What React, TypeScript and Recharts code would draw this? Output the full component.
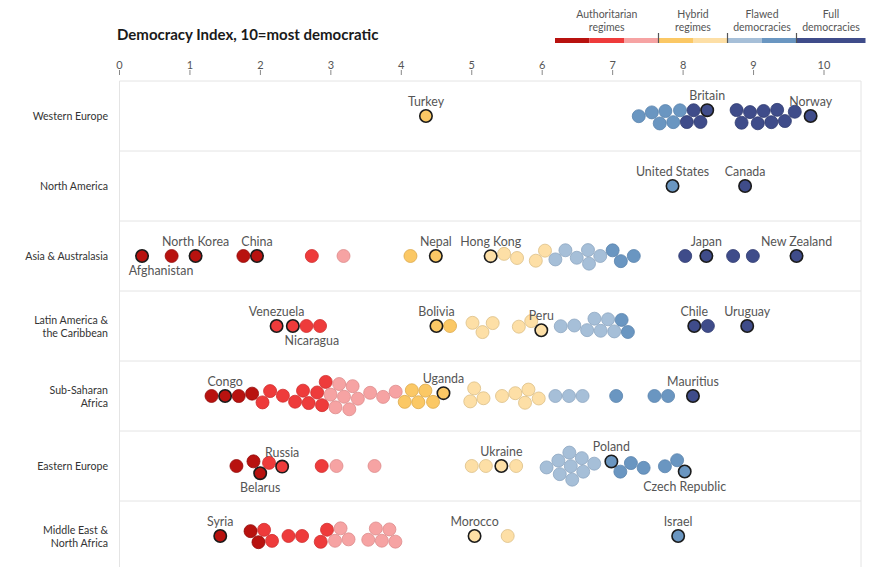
import React from "react";
import { ScatterChart, Scatter, XAxis, YAxis, ReferenceLine } from "recharts";

// Democracy Index scores by region
const regionLines = [
  ["Western Europe"],
  ["North America"],
  ["Asia & Australasia"],
  ["Latin America &", "the Caribbean"],
  ["Sub-Saharan", "Africa"],
  ["Eastern Europe"],
  ["Middle East &", "North Africa"],
];

const westernEurope = [4.35, 7.38, 7.64, 7.69, 7.7, 7.95, 7.97, 8.07, 8.07, 8.2, 8.28, 8.8, 8.81, 9.0, 9.13, 9.14, 9.28, 9.29, 9.39, 9.52, 9.81];
const northAmerica = [7.85, 8.88];
const asiaAustralasia = [0.32, 0.74, 1.08, 1.77, 1.94, 2.73, 3.18, 4.13, 4.49, 5.28, 5.54, 5.55, 5.97, 5.99, 6.22, 6.35, 6.47, 6.67, 6.71, 6.73, 7.04, 7.06, 7.3, 8.03, 8.33, 8.71, 8.99, 9.61];
const latinAmerica = [2.23, 2.5, 2.65, 2.81, 4.51, 4.68, 5.06, 5.15, 5.25, 5.69, 5.89, 5.92, 6.34, 6.39, 6.72, 6.78, 6.85, 6.91, 6.95, 7.13, 7.16, 8.22, 8.29, 8.91];
const subSaharan = [1.35, 1.48, 1.67, 1.92, 2.03, 2.13, 2.32, 2.56, 2.56, 2.74, 2.79, 2.92, 2.99, 3.01, 3.08, 3.1, 3.17, 3.2, 3.23, 3.4, 3.51, 3.73, 3.96, 4.03, 4.22, 4.23, 4.28, 4.47, 4.55, 5.03, 5.05, 5.1, 5.43, 5.7, 5.72, 5.8, 5.91, 6.19, 6.43, 6.52, 7.05, 7.65, 7.73, 8.14];
const easternEurope = [1.66, 1.94, 1.99, 2.12, 2.28, 2.87, 3.08, 3.62, 5.0, 5.2, 5.42, 5.63, 6.1, 6.23, 6.33, 6.41, 6.45, 6.45, 6.5, 6.53, 6.64, 7.04, 7.07, 7.31, 7.37, 7.75, 7.96, 7.97];
const middleEast = [1.43, 1.95, 1.96, 2.06, 2.08, 2.47, 2.52, 2.9, 2.93, 3.12, 3.13, 3.17, 3.64, 3.65, 3.66, 3.83, 3.86, 5.04, 5.51, 7.93];

const scoresByRegion = [westernEurope, northAmerica, asiaAustralasia, latinAmerica, subSaharan, easternEurope, middleEast];

const namedCountries = [
  { region: 0, score: 4.35, name: "Turkey" },
  { region: 0, score: 8.28, name: "Britain" },
  { region: 0, score: 9.81, name: "Norway" },
  { region: 1, score: 7.85, name: "United States" },
  { region: 1, score: 8.88, name: "Canada" },
  { region: 2, score: 0.32, name: "Afghanistan" },
  { region: 2, score: 1.08, name: "North Korea" },
  { region: 2, score: 1.94, name: "China" },
  { region: 2, score: 4.49, name: "Nepal" },
  { region: 2, score: 5.28, name: "Hong Kong" },
  { region: 2, score: 8.33, name: "Japan" },
  { region: 2, score: 9.61, name: "New Zealand" },
  { region: 3, score: 2.23, name: "Venezuela" },
  { region: 3, score: 2.5, name: "Nicaragua" },
  { region: 3, score: 4.51, name: "Bolivia" },
  { region: 3, score: 5.92, name: "Peru" },
  { region: 3, score: 8.22, name: "Chile" },
  { region: 3, score: 8.91, name: "Uruguay" },
  { region: 4, score: 1.48, name: "Congo" },
  { region: 4, score: 4.55, name: "Uganda" },
  { region: 4, score: 8.14, name: "Mauritius" },
  { region: 5, score: 1.99, name: "Belarus" },
  { region: 5, score: 2.28, name: "Russia" },
  { region: 5, score: 5.42, name: "Ukraine" },
  { region: 5, score: 7.04, name: "Poland" },
  { region: 5, score: 7.97, name: "Czech Republic" },
  { region: 6, score: 1.43, name: "Syria" },
  { region: 6, score: 5.04, name: "Morocco" },
  { region: 6, score: 7.93, name: "Israel" },
];

const xTicks = [0, 1, 2, 3, 4, 5, 6, 7, 8, 9, 10];

const bandLimits = [2, 3, 4, 5, 6, 7, 8];
const bandFill = ["#b8120f", "#ee3b3b", "#f6a3a3", "#fbc865", "#fddfa6", "#a6bfd8", "#6a96c1", "#3f4c8a"];
const bandStroke = ["#930d0b", "#cf2d2d", "#dd8b8b", "#dcaa4c", "#dcbf86", "#8ea7c1", "#5a84ad", "#2f3a70"];

const legendGroups = [
  { lines: ["Authoritarian", "regimes"], bands: 3 },
  { lines: ["Hybrid", "regimes"], bands: 2 },
  { lines: ["Flawed", "democracies"], bands: 2 },
  { lines: ["Full", "democracies"], bands: 1 },
];

const below = ["Afghanistan", "Nicaragua", "Belarus", "Czech Republic"];
const nudge: Record<string, number> = { Afghanistan: 19, Nicaragua: 19 };

const FONT = "Lato, 'Open Sans', sans-serif";
const W = 874;
const H = 567;
const PLOT_LEFT = 119.5;
const PLOT_RIGHT = 861;
const PLOT_TOP = 75;
const PX_PER_UNIT = 70.45;
const ROW_PX = 70;
const R = 6.5;
const X_MAX = (PLOT_RIGHT - PLOT_LEFT) / PX_PER_UNIT;
const Y_MIN = -(81 - PLOT_TOP) / ROW_PX;
const Y_MAX = Y_MIN + (H - PLOT_TOP) / ROW_PX;

const bandOf = (s: number) => {
  let i = 0;
  while (i < bandLimits.length && s >= bandLimits[i]) i++;
  return i;
};

// small force layout (x pull, y pull, collision) to build the swarm
function swarm(scores: number[]) {
  const nodes = scores.map((s, i) => ({
    score: s,
    tx: s * PX_PER_UNIT,
    x: s * PX_PER_UNIT,
    y: (((i * 7) % 5) - 2) * 0.4,
    vx: 0,
    vy: 0,
  }));
  const d = 2 * (R + 0.3);
  for (let k = 0; k < 300; k++) {
    const alpha = Math.pow(0.001, k / 300);
    for (const n of nodes) {
      n.vx += (n.tx - n.x) * 0.3 * alpha;
      n.vy += -n.y * 0.3 * alpha;
    }
    for (let i = 0; i < nodes.length; i++) {
      for (let j = i + 1; j < nodes.length; j++) {
        const a = nodes[i];
        const b = nodes[j];
        const dx = a.x + a.vx - b.x - b.vx;
        let dy = a.y + a.vy - b.y - b.vy;
        let l = dx * dx + dy * dy;
        if (l < d * d) {
          if (l < 1e-6) {
            dy = 0.01;
            l = 1e-4;
          }
          l = Math.sqrt(l);
          const f = ((d - l) / l) * 0.5;
          a.vx += dx * f;
          a.vy += dy * f;
          b.vx -= dx * f;
          b.vy -= dy * f;
        }
      }
    }
    for (const n of nodes) {
      n.vx *= 0.6;
      n.vy *= 0.6;
      n.x += n.vx;
      n.y += n.vy;
    }
  }
  return nodes;
}

type Pt = { x: number; y: number; score: number; name?: string };

const points: Pt[] = [];
scoresByRegion.forEach((scores, r) => {
  const used = new Set<number>();
  swarm(scores).forEach((n) => {
    let name: string | undefined;
    const hit = namedCountries.find((c) => c.region === r && c.score === n.score);
    if (hit && !used.has(hit.score)) {
      name = hit.name;
      used.add(hit.score);
    }
    points.push({ x: n.x / PX_PER_UNIT, y: r + 0.5 + n.y / ROW_PX, score: n.score, name });
  });
});

const plainPoints = points.filter((p) => !p.name);
const namedPoints = points.filter((p) => p.name);

const Dot = (props: any) => {
  const { cx, cy, payload } = props;
  const b = bandOf(payload.score);
  const named = !!payload.name;
  return (
    <circle
      cx={cx}
      cy={cy}
      r={named ? R - 0.3 : R}
      fill={bandFill[b]}
      stroke={named ? "#1b1b1b" : bandStroke[b]}
      strokeWidth={named ? 1.6 : 0.8}
    />
  );
};

const CountryLabel = (props: any) => {
  const { cx, cy, payload } = props;
  const isBelow = below.includes(payload.name);
  return (
    <text
      x={cx + (nudge[payload.name] || 0)}
      y={isBelow ? cy + 19 : cy - 10}
      textAnchor="middle"
      fontSize={12.4}
      fill="#555"
      fontFamily={FONT}
    >
      {payload.name}
    </text>
  );
};

const RowTick = (props: any) => {
  const { y, payload } = props;
  const lines = regionLines[Math.floor(payload.value)];
  const first = lines.length === 1 ? 4 : -2.5;
  return (
    <text x={108} y={y} textAnchor="end" fontSize={10.6} fill="#333" fontFamily={FONT}>
      {lines.map((l, i) => (
        <tspan key={i} x={108} dy={i === 0 ? first : 13}>
          {l}
        </tspan>
      ))}
    </text>
  );
};

const Legend = () => {
  let x = 555;
  const seg = 34.5;
  let band = 0;
  const parts: React.ReactNode[] = [];
  legendGroups.forEach((g, gi) => {
    const start = x;
    const width = g.bands === 1 ? seg * 2 : seg * g.bands;
    const each = width / g.bands;
    for (let k = 0; k < g.bands; k++) {
      parts.push(<rect key={`r${band}`} x={x + k * each} y={38} width={each} height={5} fill={bandFill[band]} />);
      band++;
    }
    x += width;
    const mid = start + width / 2;
    parts.push(
      <text key={`t${gi}`} x={mid} y={18} textAnchor="middle" fontSize={10.5} fill="#555" fontFamily={FONT}>
        <tspan x={mid} dy={0}>{g.lines[0]}</tspan>
        <tspan x={mid} dy={12.5}>{g.lines[1]}</tspan>
      </text>
    );
    if (gi > 0) parts.push(<line key={`l${gi}`} x1={start} x2={start} y1={33} y2={43} stroke="#555" strokeWidth={1.2} />);
  });
  return <>{parts}</>;
};

const App = () => {
  return (
    <div style={{ position: "absolute", left: 0, top: 0, width: W, height: H, background: "#fff", fontFamily: FONT }}>
      <ScatterChart width={W} height={H} margin={{ top: PLOT_TOP - 30, right: W - PLOT_RIGHT, bottom: 0, left: 0 }}>
        <XAxis
          type="number"
          dataKey="x"
          orientation="top"
          domain={[0, X_MAX]}
          allowDataOverflow
          ticks={xTicks}
          height={30}
          tickSize={5}
          tickMargin={1}
          axisLine={false}
          tickLine={{ stroke: "#888" }}
          tick={{ fontSize: 11, fill: "#555", fontFamily: FONT }}
        />
        <YAxis
          type="number"
          dataKey="y"
          domain={[Y_MIN, Y_MAX]}
          allowDataOverflow
          reversed
          width={PLOT_LEFT}
          ticks={[0.5, 1.5, 2.5, 3.5, 4.5, 5.5, 6.5]}
          tick={<RowTick />}
          axisLine={false}
          tickLine={false}
        />
        {[0, 1, 2, 3, 4, 5, 6].map((i) => (
          <ReferenceLine key={i} y={i} stroke="#e4e4e4" strokeWidth={1} />
        ))}
        <ReferenceLine segment={[{ x: 0, y: 0 }, { x: 0, y: Y_MAX }]} stroke="#e4e4e4" />
        <ReferenceLine segment={[{ x: X_MAX, y: 0 }, { x: X_MAX, y: Y_MAX }]} stroke="#e4e4e4" />
        <Scatter data={plainPoints} shape={<Dot />} isAnimationActive={false} />
        <Scatter data={namedPoints} shape={<Dot />} isAnimationActive={false} />
        <Scatter data={namedPoints} shape={<CountryLabel />} isAnimationActive={false} />
      </ScatterChart>
      <svg width={W} height={60} style={{ position: "absolute", left: 0, top: 0, pointerEvents: "none" }}>
        <text x={117} y={40} fontSize={15} fontWeight={700} fill="#1a1a1a" fontFamily={FONT}>
          Democracy Index, 10=most democratic
        </text>
        <Legend />
      </svg>
    </div>
  );
};

export default App;
